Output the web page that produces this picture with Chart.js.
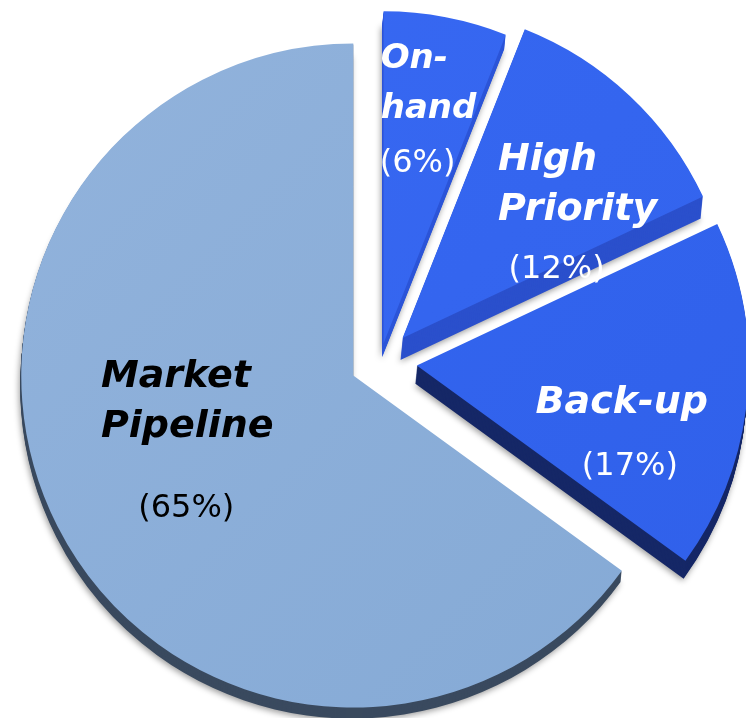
<!DOCTYPE html>
<html>
<head>
<meta charset="utf-8">
<title>Pipeline mix</title>
<script src="https://cdn.jsdelivr.net/npm/chart.js@4.4.1/dist/chart.umd.min.js"></script>
<style>
  html, body { margin: 0; padding: 0; background: #fff; }
  #wrap { width: 746px; height: 718px; }
</style>
</head>
<body>
<div id="wrap"><canvas id="pipeline"></canvas></div>
<script>
// Pipeline shares, clockwise from 12 o'clock
const categories = ['On-hand', 'High Priority', 'Back-up', 'Market Pipeline'];
const shares = [6, 12, 17, 65];
const titleLines = [['On-', 'hand'], ['High', 'Priority'], ['Back-up'], ['Market', 'Pipeline']];

// slice look
const topLight = ['#3869f3', '#3668f2', '#3467f1', '#92b3dc'];
const topDark = ['#3262ec', '#3262ec', '#3060ea', '#84a9d5'];
const sideColors = ['#2c55d8', '#2b50cc', '#162867', '#3a4a5f'];
const textColors = ['#fff', '#fff', '#fff', '#000'];
const titleSize = [34, 38, 38, 38];
const explode = [19, 33, 37, 30];   // px pulled out along the slice middle
const depth = [14, 22, 18, 11];     // thickness of the 3d edge

// label spots from each slice's apex: [title centre x, first baseline], [percent centre x, baseline]
const labelPos = [
  [[45, -275], [34, -171]],
  [[175, -168], [154, -60]],
  [[205, 48], [213, 110]],
  [[-166, 11], [-167, 141]]
];

// push every slice out from the middle
const explodePlugin = {
  id: 'explode',
  afterDatasetUpdate(chart, args) {
    args.meta.data.forEach((arc, i) => {
      const mid = (arc.startAngle + arc.endAngle) / 2;
      arc.x += Math.cos(mid) * explode[i];
      arc.y += Math.sin(mid) * explode[i];
    });
  }
};

// fake 3d: stack darker copies under each slice
const extrudePlugin = {
  id: 'extrude',
  beforeDatasetsDraw(chart) {
    const ctx = chart.ctx;
    chart.getDatasetMeta(0).data.forEach((arc, i) => {
      const own = arc.options;
      arc.options = Object.assign({}, own, { backgroundColor: sideColors[i], borderWidth: 0 });
      for (let k = depth[i]; k >= 1; k--) {
        ctx.save();
        if (k === depth[i]) {
          ctx.shadowColor = 'rgba(0,0,0,0.4)';
          ctx.shadowBlur = 6;
          ctx.shadowOffsetX = -1;
          ctx.shadowOffsetY = 2;
        }
        ctx.translate(-0.1 * k, k);
        arc.draw(ctx);
        ctx.restore();
      }
      arc.options = own;
    });
  }
};

const labelPlugin = {
  id: 'sliceLabels',
  afterDatasetsDraw(chart) {
    const ctx = chart.ctx;
    chart.getDatasetMeta(0).data.forEach((arc, i) => {
      const [[tx, ty], [px, py]] = labelPos[i];
      ctx.save();
      ctx.fillStyle = textColors[i];
      ctx.textBaseline = 'alphabetic';
      ctx.font = 'italic bold ' + titleSize[i] + 'px "DejaVu Sans"';
      const w = Math.max(...titleLines[i].map(t => ctx.measureText(t).width));
      ctx.textAlign = 'left';
      titleLines[i].forEach((t, j) => {
        ctx.fillText(t, arc.x + tx - w / 2, arc.y + ty + j * 50);
      });
      ctx.font = '32px "DejaVu Sans"';
      ctx.textAlign = 'center';
      ctx.fillText('(' + shares[i] + '%)', arc.x + px, arc.y + py);
      ctx.restore();
    });
  }
};

new Chart(document.getElementById('pipeline'), {
  type: 'pie',
  data: {
    labels: categories,
    datasets: [{
      data: shares,
      radius: 332,
      borderWidth: 0,
      backgroundColor: (c) => {
        const area = c.chart.chartArea;
        if (!area) return topDark[c.dataIndex];
        const g = c.chart.ctx.createLinearGradient(area.left, area.top, area.right, area.bottom);
        g.addColorStop(0, topLight[c.dataIndex]);
        g.addColorStop(1, topDark[c.dataIndex]);
        return g;
      }
    }]
  },
  options: {
    responsive: true,
    maintainAspectRatio: false,
    animation: false,
    events: [],
    layout: { padding: { left: 14, top: 6, right: 0, bottom: 0 } },
    plugins: {
      legend: { display: false },
      tooltip: { enabled: false }
    }
  },
  plugins: [explodePlugin, extrudePlugin, labelPlugin]
});
</script>
</body>
</html>
